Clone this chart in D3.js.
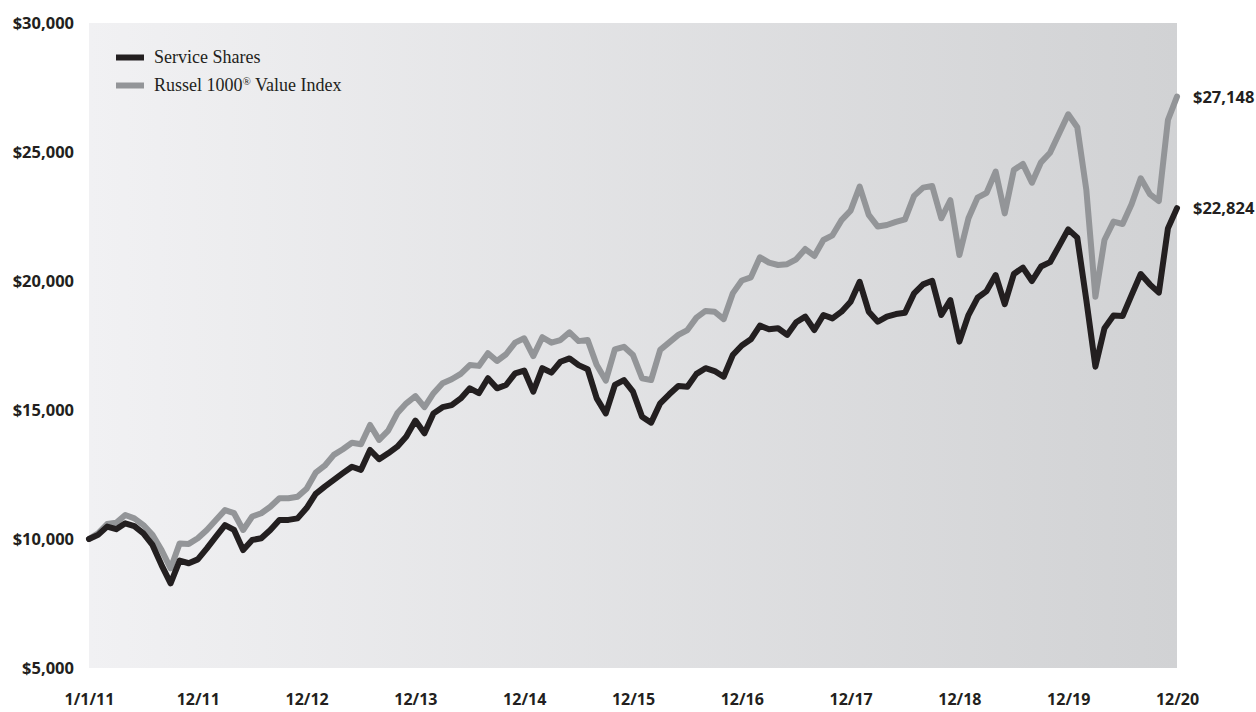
<!DOCTYPE html>
<html>
<head>
<meta charset="utf-8">
<script src="https://cdn.jsdelivr.net/npm/d3@7.9.0/dist/d3.min.js"></script>
<style>
    html, body { margin: 0; padding: 0; background: #fff; }
    svg { display: block; }
    .axis text { font-family: 'Open Sans', sans-serif; font-weight: 700; fill: #231f20; }
    .legend text { font-family: 'Liberation Serif', 'DejaVu Serif', serif; fill: #231f20; }
    .end-label { font-family: 'Open Sans', sans-serif; font-weight: 700; fill: #231f20; }
</style>
</head>
<body>
<svg id="chart" width="1256" height="712"></svg>
<script>
// monthly values, index 0 = 1/1/11 ... 120 = 12/20
const serviceShares = [
    10000, 10160, 10480, 10380, 10610, 10500, 10220, 9770, 8990, 8280, 9160, 9060,
    9210, 9640, 10090, 10540, 10350, 9570, 9960, 10030, 10350, 10740, 10740, 10800,
    11200, 11750, 12030, 12290, 12550, 12800, 12680, 13450, 13090, 13320, 13580, 13970,
    14590, 14100, 14870, 15110, 15190, 15450, 15840, 15650, 16230, 15840, 15970, 16420,
    16530, 15710, 16620, 16450, 16870, 17000, 16740, 16580, 15450, 14870, 15970, 16160,
    15710, 14740, 14510, 15260, 15610, 15930, 15900, 16400, 16620, 16510, 16290, 17130,
    17500, 17740, 18270, 18130, 18170, 17910, 18400, 18620, 18100, 18680, 18550, 18810,
    19200, 19970, 18810, 18420, 18620, 18720, 18770, 19520, 19870, 20010, 18680, 19260,
    17650, 18680, 19350, 19610, 20230, 19100, 20270, 20520, 20000, 20560, 20730, 21360,
    22000, 21680, 19260, 16680, 18170, 18660, 18640, 19460, 20270, 19870, 19550, 22040,
    22824
];
const russell1000Value = [
    10000, 10220, 10580, 10630, 10930, 10800, 10540, 10160, 9570, 8860, 9830, 9810,
    10030, 10350, 10740, 11120, 11000, 10350, 10870, 11000, 11250, 11580, 11580, 11640,
    11950, 12570, 12840, 13260, 13480, 13730, 13670, 14420, 13840, 14200, 14870, 15260,
    15540, 15110, 15650, 16040, 16190, 16400, 16740, 16710, 17200, 16900, 17160, 17610,
    17780, 17090, 17820, 17610, 17710, 18010, 17670, 17710, 16740, 16140, 17350, 17450,
    17130, 16230, 16160, 17330, 17620, 17910, 18100, 18580, 18840, 18810, 18520, 19520,
    20020, 20140, 20920, 20710, 20620, 20650, 20840, 21240, 20970, 21590, 21770, 22360,
    22730, 23660, 22560, 22110, 22170, 22290, 22390, 23300, 23620, 23680, 22430, 23130,
    21010, 22430, 23230, 23420, 24240, 22620, 24300, 24540, 23810, 24600, 24970, 25720,
    26460, 25960, 23530, 19390, 21590, 22300, 22210, 22980, 23980, 23370, 23100, 26240,
    27148
];
const xTickLabels = ['1/1/11', '12/11', '12/12', '12/13', '12/14', '12/15', '12/16', '12/17', '12/18', '12/19', '12/20'];
const xTickMonths = [0, 12, 24, 36, 48, 60, 72, 84, 96, 108, 120];
const yTicks = [5000, 10000, 15000, 20000, 25000, 30000];

const svg = d3.select('#chart');
const plot = { left: 89, right: 1177, top: 23, bottom: 668 };

const x = d3.scaleLinear().domain([0, 120]).range([plot.left, plot.right]);
const y = d3.scaleLinear().domain([5000, 30000]).range([plot.bottom, plot.top]);

// background gradient
const defs = svg.append('defs');
const grad = defs.append('linearGradient').attr('id', 'bg').attr('x1', '0%').attr('x2', '100%');
grad.append('stop').attr('offset', '0%').attr('stop-color', '#f1f1f3');
grad.append('stop').attr('offset', '100%').attr('stop-color', '#d1d2d4');

svg.append('rect')
    .attr('x', plot.left).attr('y', plot.top)
    .attr('width', plot.right - plot.left).attr('height', plot.bottom - plot.top)
    .attr('fill', 'url(#bg)');

// axes
const yAxis = svg.append('g')
    .attr('class', 'axis')
    .attr('transform', `translate(${plot.left - 15},0)`)
    .call(d3.axisLeft(y).tickValues(yTicks).tickSize(0).tickPadding(0).tickFormat(d3.format('$,')));
yAxis.select('.domain').remove();
yAxis.selectAll('text').style('font-size', '16.5px').attr('dy', '0.36em');

const xAxis = svg.append('g')
    .attr('class', 'axis')
    .attr('transform', `translate(0,${plot.bottom})`)
    .call(d3.axisBottom(x).tickValues(xTickMonths).tickSize(0).tickPadding(0)
        .tickFormat((d, i) => xTickLabels[i]));
xAxis.select('.domain').remove();
xAxis.selectAll('text').style('font-size', '16px').attr('y', 37).attr('dy', 0);

// lines
const line = d3.line()
    .x((d, i) => x(i))
    .y((d) => y(d));

svg.append('path')
    .datum(russell1000Value)
    .attr('fill', 'none')
    .attr('stroke', '#939598')
    .attr('stroke-width', 6)
    .attr('stroke-linejoin', 'round')
    .attr('stroke-linecap', 'round')
    .attr('d', line);

svg.append('path')
    .datum(serviceShares)
    .attr('fill', 'none')
    .attr('stroke', '#231f20')
    .attr('stroke-width', 6)
    .attr('stroke-linejoin', 'round')
    .attr('stroke-linecap', 'round')
    .attr('d', line);

// end value labels
const last = 120;
[[russell1000Value, '$27,148'], [serviceShares, '$22,824']].forEach(([s, label]) => {
    svg.append('text')
        .attr('class', 'end-label')
        .attr('x', x(last) + 16)
        .attr('y', y(s[last]))
        .attr('dy', '0.36em')
        .style('font-size', '16.5px')
        .text(label);
});

// legend
const legend = svg.append('g').attr('class', 'legend');
const legendItems = [
    { color: '#231f20', y: 57.5, html: 'Service Shares' },
    { color: '#939598', y: 85.5, html: 'Russel 1000<tspan dy="-6" font-size="11px">®</tspan><tspan dy="6"> Value Index</tspan>' }
];
legendItems.forEach((d) => {
    legend.append('rect')
        .attr('x', 116).attr('y', d.y - 3)
        .attr('width', 28).attr('height', 6)
        .attr('fill', d.color);
    legend.append('text')
        .attr('x', 154).attr('y', d.y + 5.5)
        .style('font-size', '18px')
        .html(d.html);
});
</script>
</body>
</html>
